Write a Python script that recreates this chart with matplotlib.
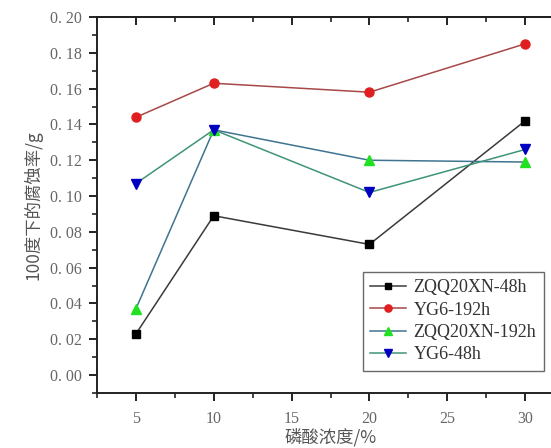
import matplotlib
matplotlib.use('Agg')
import matplotlib.pyplot as plt
from matplotlib.ticker import MultipleLocator, FuncFormatter

# data
conc = [5, 10, 20, 30]
zqq_48h = [0.023, 0.089, 0.073, 0.142]
yg6_192h = [0.144, 0.163, 0.158, 0.185]
zqq_192h = [0.037, 0.137, 0.120, 0.119]
yg6_48h = [0.107, 0.137, 0.102, 0.126]

labels = ['ZQQ20XN-48h', 'YG6-192h', 'ZQQ20XN-192h', 'YG6-48h']
x_ticks = [5, 10, 15, 20, 25, 30]
y_ticks = [0.00, 0.02, 0.04, 0.06, 0.08, 0.10, 0.12, 0.14, 0.16, 0.18, 0.20]

cjk = ['Noto Sans CJK SC', 'DejaVu Sans']
serif = ['Liberation Serif', 'DejaVu Serif']

fig = plt.figure(figsize=(5.51, 4.48), dpi=100)
ax = fig.add_axes([97 / 551, 55 / 448, 467 / 551, 376 / 448])

ax.plot(conc, zqq_48h, color='#3a3a3a', lw=1.1, marker='s', ms=6,
        mfc='black', mec='black', label=labels[0])
ax.plot(conc, yg6_192h, color='#a84848', lw=1.1, marker='o', ms=6.5,
        mfc='#e02020', mec='#e02020', label=labels[1])
ax.plot(conc, zqq_192h, color='#3f7490', lw=1.1, marker='^', ms=7,
        mfc='#22e022', mec='#22e022', label=labels[2])
ax.plot(conc, yg6_48h, color='#3f9478', lw=1.1, marker='v', ms=7,
        mfc='#0000c0', mec='#0000c0', label=labels[3])

ax.set_xlim(2.5, 32.5)
ax.set_ylim(-0.01, 0.20)
ax.set_xticks(x_ticks)
ax.set_yticks(y_ticks)
ax.xaxis.set_minor_locator(MultipleLocator(2.5))
ax.yaxis.set_minor_locator(MultipleLocator(0.01))
ax.yaxis.set_major_formatter(FuncFormatter(lambda v, p: ('%.2f' % v).replace('.', '. ')))

for s in ['left', 'bottom', 'top']:
    ax.spines[s].set_linewidth(1.4)
    ax.spines[s].set_color('#222222')
ax.spines['right'].set_visible(False)

ax.tick_params(axis='both', which='major', length=6, width=1.4,
               direction='out', colors='#222222', labelcolor='#666666',
               labelsize=11.5, pad=5)
ax.tick_params(axis='x', which='major', pad=7)
ax.tick_params(axis='both', which='minor', length=3.5, width=1.2,
               direction='out', colors='#222222')
for t in ax.get_xticklabels() + ax.get_yticklabels():
    t.set_family(serif)

top = ax.secondary_xaxis('top')
top.set_xticks(x_ticks)
top.xaxis.set_minor_locator(MultipleLocator(2.5))
top.tick_params(axis='x', which='major', direction='in', length=6, width=1.4,
                labeltop=False, colors='#222222')
top.tick_params(axis='x', which='minor', direction='in', length=3.5, width=1.2,
                colors='#222222')
top.spines['top'].set_linewidth(1.4)

ax.set_xlabel('磷酸浓度/%', family=cjk, fontsize=12.5, color='#555555', labelpad=1)
ax.set_ylabel('100度下的腐蚀率/g', family=cjk, fontsize=12.5, color='#555555', labelpad=5)

leg = ax.legend(loc='upper left', bbox_to_anchor=(363 / 551, 1 - 272 / 448),
                bbox_transform=fig.transFigure, borderaxespad=0,
                prop={'family': serif, 'size': 13}, frameon=True, fancybox=False,
                handlelength=2.0, handletextpad=0.4, labelspacing=0.3,
                borderpad=0.4, markerscale=0.8)
leg.get_frame().set_edgecolor('#444444')
leg.get_frame().set_linewidth(1.0)
for t in leg.get_texts():
    t.set_color('#333333')

fig.savefig('out.png', dpi=100)
